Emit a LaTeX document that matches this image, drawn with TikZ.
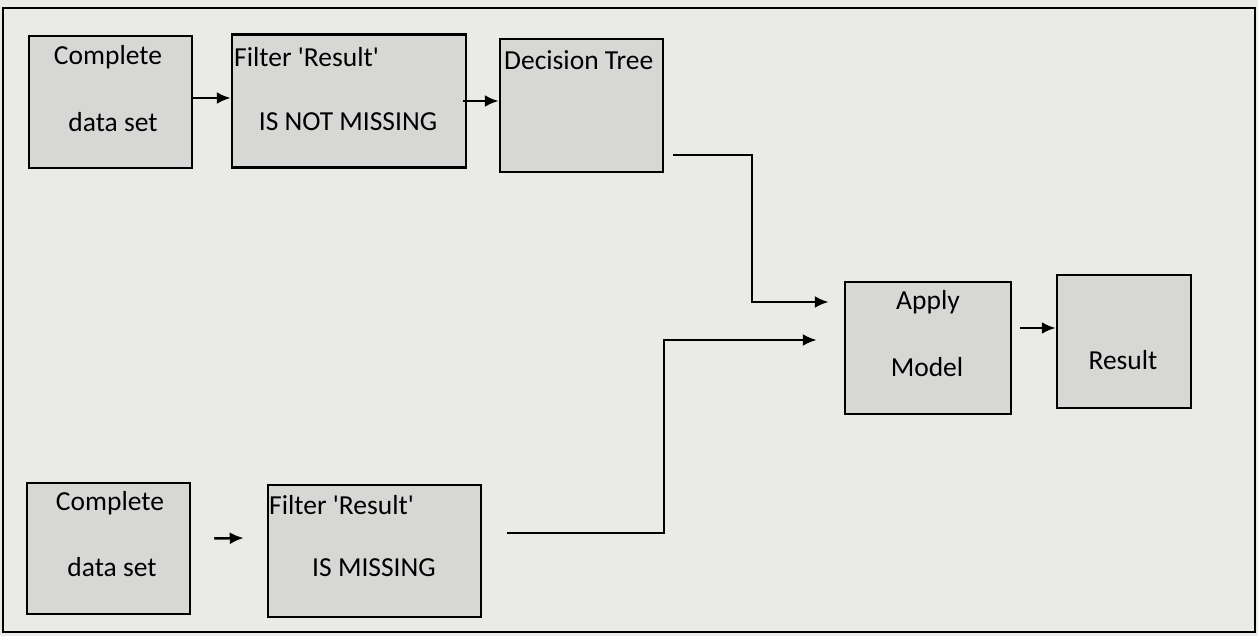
\documentclass[tikz,border=0pt]{standalone}
\usepackage{fontspec}
\setmainfont{Carlito}
\usetikzlibrary{arrows.meta,calc}
\definecolor{bg}{HTML}{EAEAE6}
\definecolor{boxfill}{HTML}{D7D7D5}
\newcommand{\sq}{\textquotesingle}
\tikzset{
  blk/.style={draw=black, line width=2.5pt, fill=boxfill, inner sep=0pt},
  lbl/.style={inner sep=0pt, font=\fontsize{27.5}{32}\selectfont},
  arr/.style={line width=2.5pt, -{Latex[length=14pt,width=12pt]}},
  conn/.style={line width=2.5pt}
}
\begin{document}
\begin{tikzpicture}[x=1pt,y=-1pt]
\useasboundingbox (0,0) rectangle (1258,636);
\fill[bg] (0,0) rectangle (1258,636);
\draw[line width=2pt] (3,8) rectangle (1255,632);
% boxes
\node[blk, minimum width=163pt, minimum height=132pt] (b1) at (110.5,102) {};
\node[blk, minimum width=234pt, minimum height=133pt] (b2) at (349,101) {};
\node[blk, minimum width=163pt, minimum height=133pt] (b3) at (581.5,105.5) {};
\node[blk, minimum width=166pt, minimum height=132pt] (b4) at (928,348) {};
\node[blk, minimum width=134pt, minimum height=133pt] (b5) at (1124,341.5) {};
\node[blk, minimum width=163pt, minimum height=131pt] (b6) at (108.5,548.5) {};
\node[blk, minimum width=213pt, minimum height=132pt] (b7) at (374.5,551) {};
% labels
\node[lbl] (t1a) at (108,57) {Complete};
\node[lbl] (t1b) at (113,122) {data set};
\node[lbl, anchor=west] (t2a) at (234,57) {Filter \sq Result\sq};
\node[lbl] (t2b) at (348,122) {IS NOT MISSING};
\node[lbl, anchor=west] (t3a) at (504,60) {Decision Tree};
\node[lbl] (t4a) at (928,302) {Apply};
\node[lbl] (t4b) at (927,367) {Model};
\node[lbl] (t5a) at (1123,360) {Result};
\node[lbl] (t6a) at (110,503) {Complete};
\node[lbl] (t6b) at (112,567) {data set};
\node[lbl, anchor=west] (t7a) at (269,505) {Filter \sq Result\sq};
\node[lbl] (t7b) at (374,568) {IS MISSING};
% connectors
\draw[arr] ([yshift=4pt]b1.east) -- ([yshift=3pt]b2.west);
\draw[arr] ([xshift=-4pt]b2.east) -- (b2.east -| b3.west);
\coordinate (c1) at (752,302);
\draw[arr] ([xshift=9pt,yshift=18pt]b3.south east) -| (c1) -- ([xshift=-15pt,yshift=46pt]b4.west);
\coordinate (c2) at (664,340);
\draw[arr] ([xshift=25pt,yshift=18pt]b7.east) -| (c2) -- ([xshift=-27pt,yshift=8pt]b4.west);
\draw[arr] ([xshift=23pt,yshift=10pt]b6.east) -- ([xshift=-23pt,yshift=13pt]b7.west);
\draw[arr] ([xshift=8pt,yshift=20pt]b4.east) -- ([yshift=13.5pt]b5.west);
\end{tikzpicture}
\end{document}
